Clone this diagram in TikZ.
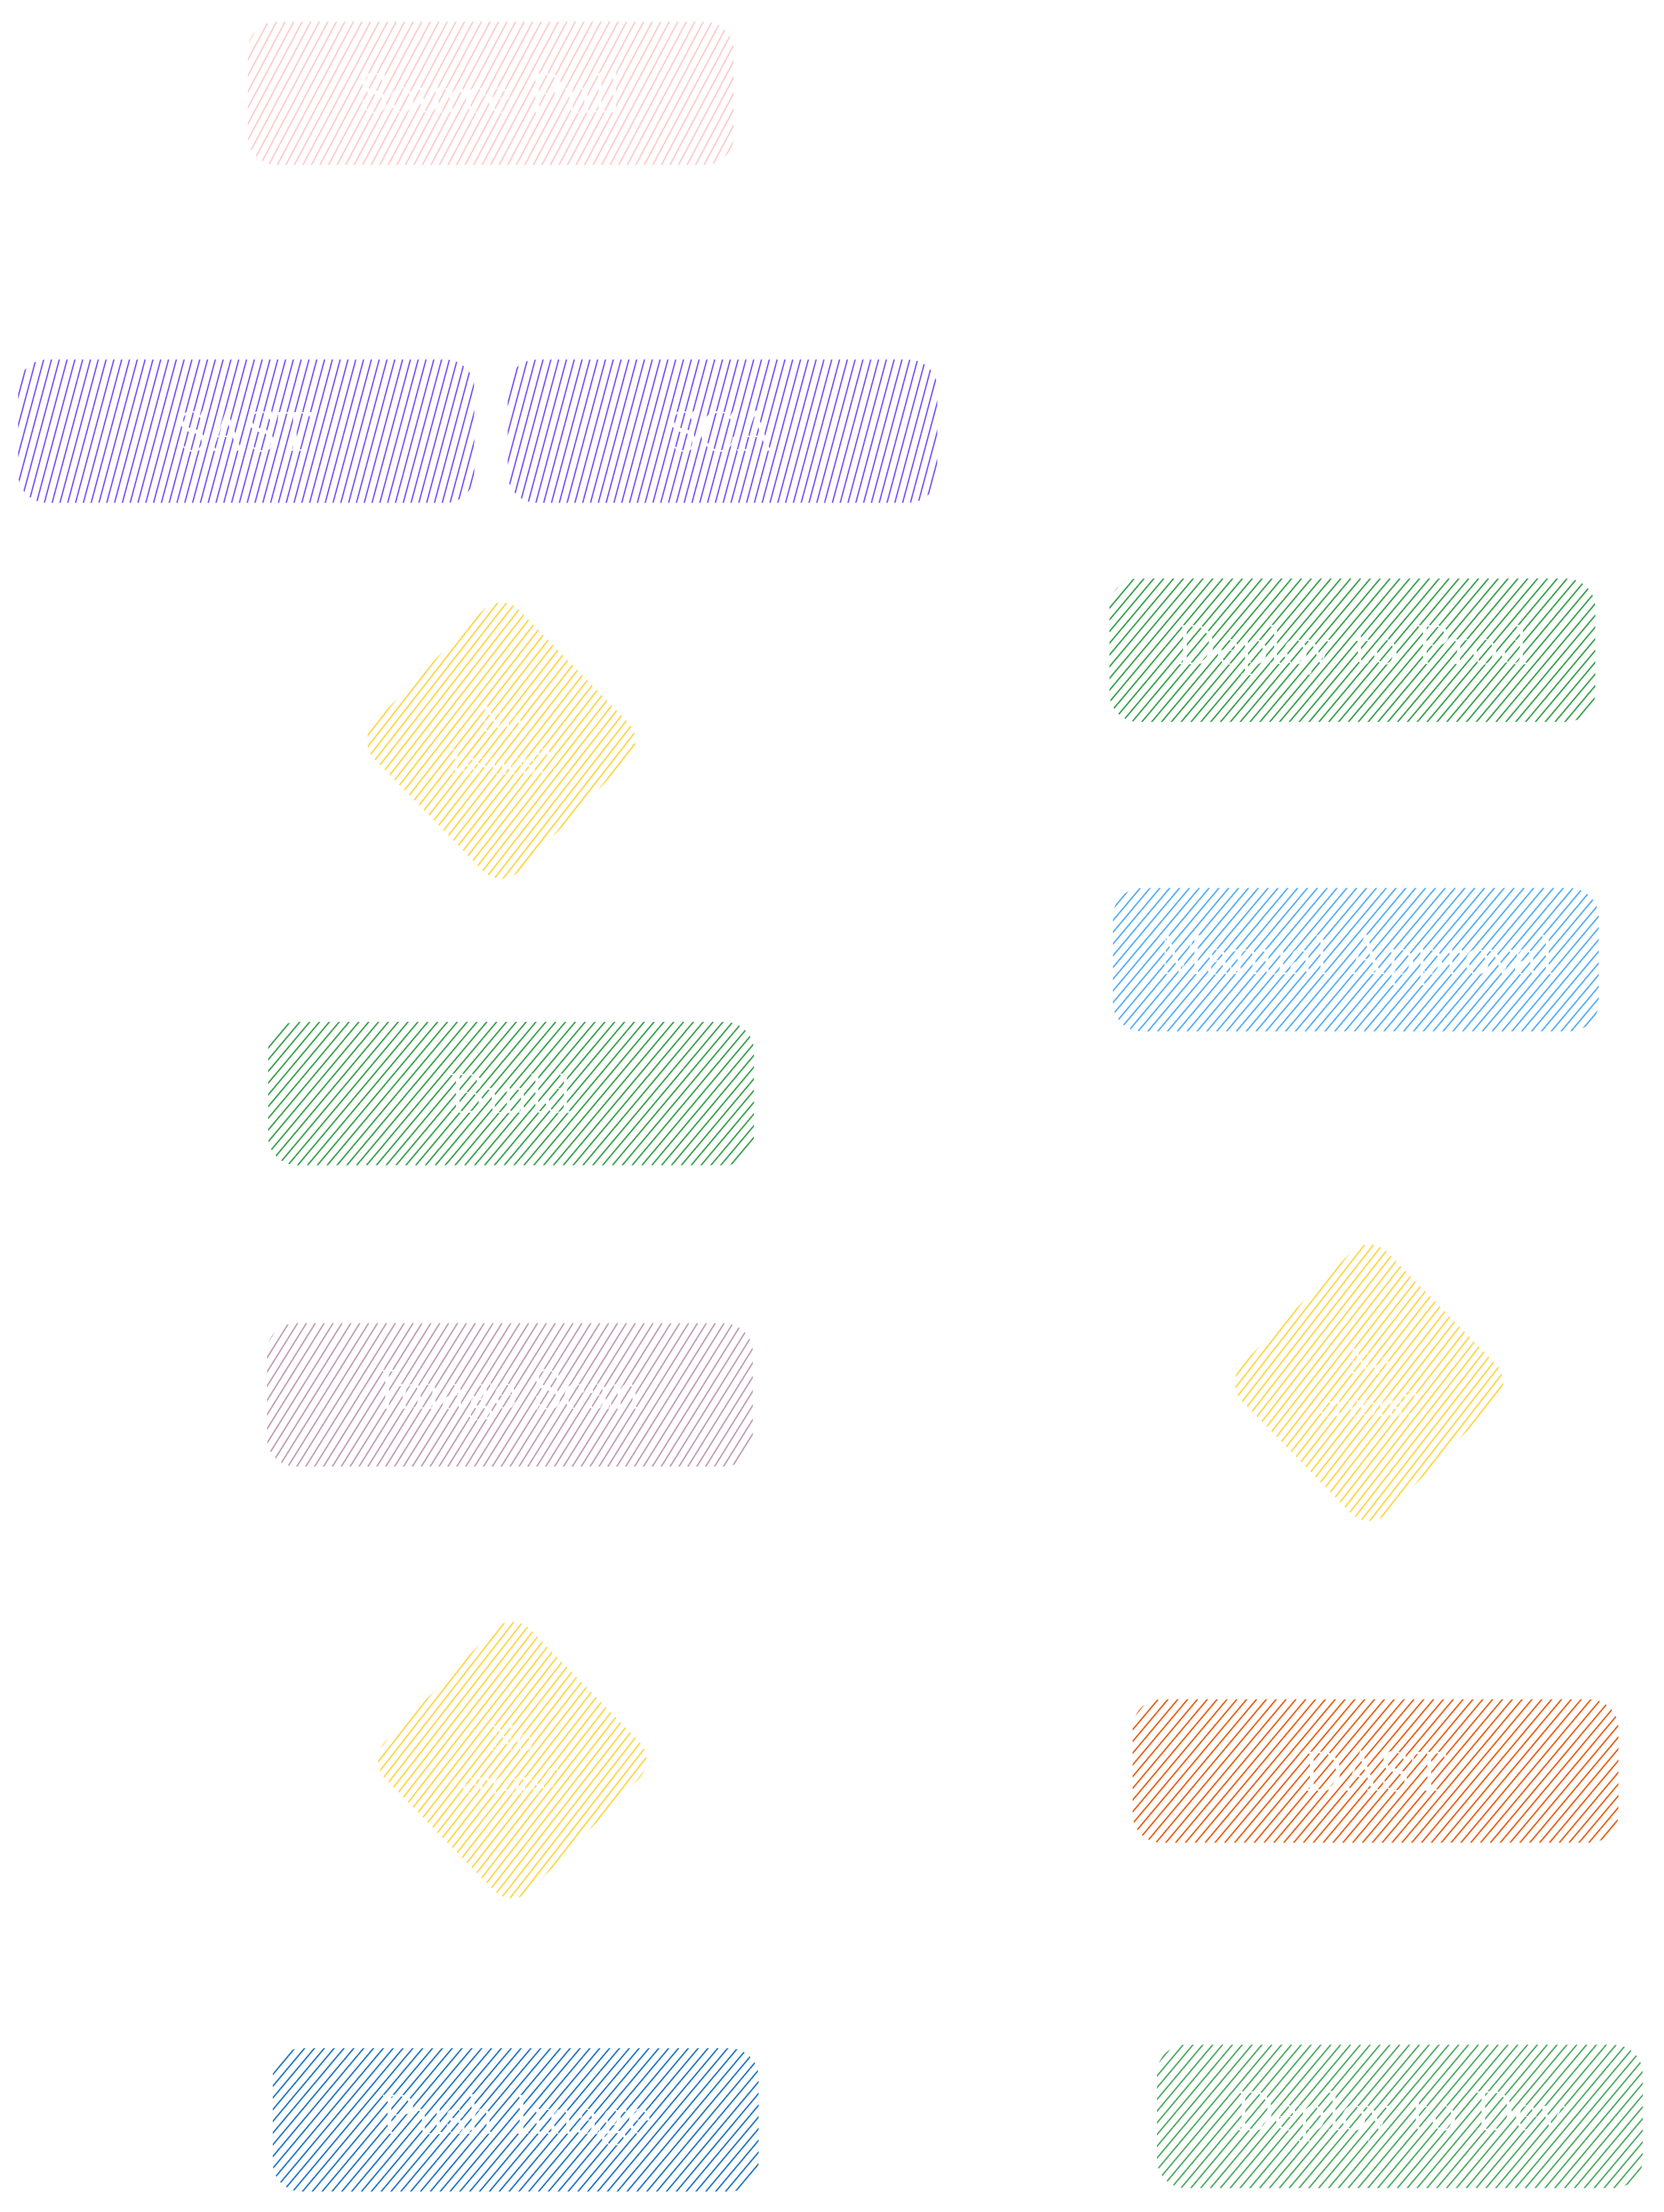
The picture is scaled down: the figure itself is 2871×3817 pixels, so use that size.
\documentclass[tikz,border=0pt]{standalone}
\usetikzlibrary{positioning,shapes.geometric,patterns.meta}
\definecolor{pullpink}{HTML}{FFC9C9}
\definecolor{scanpurple}{HTML}{7950F2}
\definecolor{checkyellow}{HTML}{FFD43B}
\definecolor{deploygreen}{HTML}{2F9E44}
\definecolor{devgreen}{HTML}{45A85A}
\definecolor{approvalblue}{HTML}{4DABF7}
\definecolor{imagemauve}{HTML}{C099B3}
\definecolor{dastorange}{HTML}{E8590C}
\definecolor{pushblue}{HTML}{1971C2}
\begin{document}
\begin{tikzpicture}[x=0.01cm,y=-0.01cm,
    every node/.style={font=\fontsize{28}{32}\selectfont, text=white, align=center, inner sep=0pt},
    stage/.style={rectangle, rounded corners=0.5cm, minimum width=8.38cm, minimum height=2.47cm,
        pattern={Lines[angle=#1,distance=0.13cm,line width=0.65pt]}},
    check/.style={diamond, rounded corners=0.45cm, minimum width=5.0cm, minimum height=5.15cm,
        font=\fontsize{18}{21}\selectfont, pattern color=checkyellow,
        pattern={Lines[angle=52,distance=0.12cm,line width=0.65pt]}}]
\useasboundingbox (0,0) rectangle (2871,3817);
% left column
\node[stage=62, pattern color=pullpink] (pull) at (847,161) {Source Pull};
\node[stage=75, pattern color=scanpurple, minimum width=7.87cm] (sast) at (425,744) {SAST};
\node[stage=75, pattern color=scanpurple, minimum width=7.41cm] (sca) at (1247,744) {SCA};
\node[check] (issues) at (865,1278) {No\\Issues?};
\node[stage=50, pattern color=deploygreen] (build) at (882,1887) {Build};
\node[stage=58, pattern color=imagemauve] (imgscan) at (880,2407) {Image Scan};
\node[check] (errorsimg) at (884,3037) {No\\errors?};
\node[stage=50, pattern color=pushblue] (push) at (890,3658) {Push Image};
% right column
\node[stage=50, pattern color=deploygreen] (prod) at (2334,1122) {Deploy to Prod};
\node[stage=50, pattern color=approvalblue] (approval) at (2340,1656) {Manual Approval};
\node[check] (errorsdast) at (2363,2386) {No\\errors?};
\node[stage=50, pattern color=dastorange] (dast) at (2374,3056) {DAST};
\node[stage=50, pattern color=devgreen] (dev) at (2416,3652) {Deploy to Dev};
\end{tikzpicture}
\end{document}
